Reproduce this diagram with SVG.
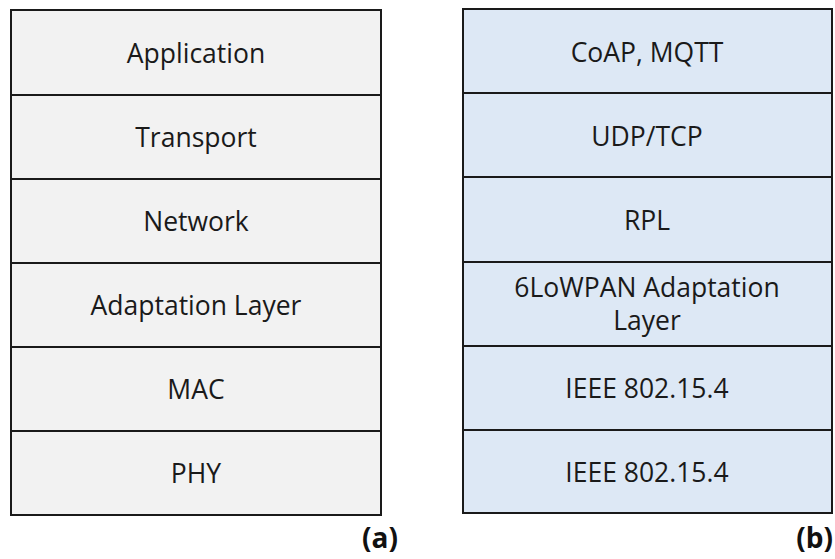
<svg xmlns="http://www.w3.org/2000/svg" width="835" height="559" viewBox="0 0 835 559">
<style>
.l{fill:#f2f2f2;stroke:#1a1a1a;stroke-width:2}
.r{fill:#dde8f5;stroke:#1a1a1a;stroke-width:2}
text{font-family:"Open Sans","Noto Sans","Liberation Sans",sans-serif;font-size:26.5px;fill:#1a1a1a;text-anchor:middle}
.lab{font-size:28px;font-weight:bold;text-anchor:end;fill:#111}
</style>
<rect width="835" height="559" fill="#ffffff"/>
<g id="stack-a">
<g id="a-application"><rect class="l" x="11" y="10" width="370" height="85"/><text x="196" y="63">Application</text></g>
<g id="a-transport"><rect class="l" x="11" y="95" width="370" height="84"/><text x="196" y="147">Transport</text></g>
<g id="a-network"><rect class="l" x="11" y="179" width="370" height="84"/><text x="196" y="231">Network</text></g>
<g id="a-adaptation"><rect class="l" x="11" y="263" width="370" height="84"/><text x="196" y="315">Adaptation Layer</text></g>
<g id="a-mac"><rect class="l" x="11" y="347" width="370" height="84"/><text x="196" y="399">MAC</text></g>
<g id="a-phy"><rect class="l" x="11" y="431" width="370" height="84"/><text x="196" y="483">PHY</text></g>
<text class="lab" x="398" y="548">(a)</text>
</g>
<g id="stack-b">
<g id="b-coap"><rect class="r" x="463" y="9" width="369" height="84"/><text x="647" y="62">CoAP, MQTT</text></g>
<g id="b-udp"><rect class="r" x="463" y="93" width="369" height="84"/><text x="647" y="146">UDP/TCP</text></g>
<g id="b-rpl"><rect class="r" x="463" y="177" width="369" height="85"/><text x="647" y="230">RPL</text></g>
<g id="b-6lowpan"><rect class="r" x="463" y="262" width="369" height="84"/><text x="647" y="297">6LoWPAN Adaptation</text><text x="647" y="330">Layer</text></g>
<g id="b-mac"><rect class="r" x="463" y="346" width="369" height="84"/><text x="647" y="398">IEEE 802.15.4</text></g>
<g id="b-phy"><rect class="r" x="463" y="430" width="369" height="83"/><text x="647" y="482">IEEE 802.15.4</text></g>
<text class="lab" x="833" y="548">(b)</text>
</g>
<g id="connectors"/>
</svg>
